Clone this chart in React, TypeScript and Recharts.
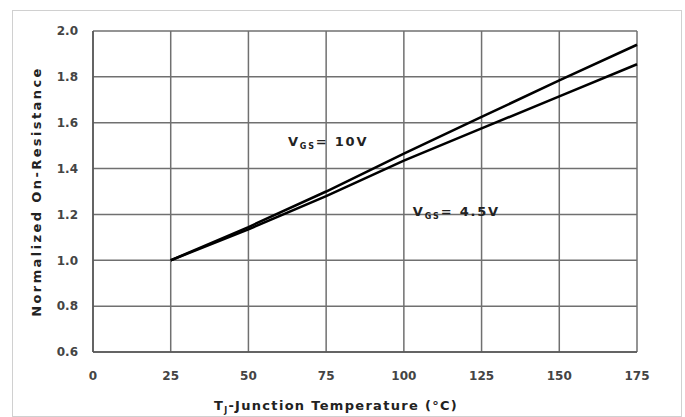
import React from "react";
import { LineChart, Line, XAxis, YAxis, CartesianGrid, ReferenceDot } from "recharts";

const temps = [25, 50, 75, 100, 125, 150, 175];
const vgs10 = [1.0, 1.145, 1.3, 1.465, 1.625, 1.785, 1.94];
const vgs45 = [1.0, 1.135, 1.28, 1.435, 1.575, 1.715, 1.855];
const xTicks = [0, 25, 50, 75, 100, 125, 150, 175];
const yTicks = [0.6, 0.8, 1.0, 1.2, 1.4, 1.6, 1.8, 2.0];

const data = temps.map((t, i) => ({ t, v10: vgs10[i], v45: vgs45[i] }));

const FONT = "'DejaVu Sans', Verdana, sans-serif";
const INK = "#222";

function VgsLabel({ viewBox, value }: any) {
  const x = viewBox?.cx ?? viewBox?.x ?? 0;
  const y = viewBox?.cy ?? viewBox?.y ?? 0;
  return (
    <text x={x} y={y} fontFamily={FONT} fontSize={13} fontWeight="bold" fill={INK} letterSpacing={1.8}>
      V
      <tspan fontSize={8} dy={3}>GS</tspan>
      <tspan dy={-3}>{"= " + value}</tspan>
    </text>
  );
}

function XTitle({ viewBox }: any) {
  const cx = viewBox.x + viewBox.width / 2 - 29;
  return (
    <text x={cx} y={viewBox.y + 58} textAnchor="middle" fontFamily={FONT} fontSize={13} fontWeight="bold" fill={INK} letterSpacing={1.3}>
      T<tspan fontSize={8} dy={3}>J</tspan>
      <tspan dy={-3}>-Junction Temperature (°C)</tspan>
    </text>
  );
}

function YTitle({ viewBox }: any) {
  const cx = 36;
  const cy = viewBox.y + viewBox.height / 2;
  return (
    <text
      x={cx}
      y={cy}
      transform={`rotate(-90 ${cx} ${cy})`}
      textAnchor="middle"
      dominantBaseline="central"
      fontFamily={FONT}
      fontSize={13}
      fontWeight="bold"
      fill={INK}
      letterSpacing={2.4}
    >
      Normalized On-Resistance
    </text>
  );
}

export default function App() {
  return (
    <div style={{ position: "absolute", left: 0, top: 0, width: 685, height: 417, background: "#fff" }}>
      <div
        style={{
          position: "absolute",
          left: 12,
          top: 10,
          width: 668,
          height: 405,
          border: "1px solid #d0d0d0",
        }}
      />
      <LineChart
        width={685}
        height={417}
        data={data}
        margin={{ top: 31, right: 48, left: 0, bottom: 0 }}
        style={{ position: "absolute", left: 0, top: 0 }}
      >
        <CartesianGrid stroke="#707070" strokeWidth={1.5} horizontalValues={yTicks} verticalValues={xTicks} />
        <XAxis
          dataKey="t"
          type="number"
          domain={[0, 175]}
          ticks={xTicks}
          height={65}
          tickLine={false}
          axisLine={{ stroke: "#555", strokeWidth: 1.5 }}
          tick={{ fontFamily: FONT, fontSize: 12, fontWeight: "bold", fill: "#444" }}
          tickMargin={13}
          label={<XTitle />}
        />
        <YAxis
          type="number"
          domain={[0.6, 2.0]}
          ticks={yTicks}
          width={93}
          tickLine={false}
          axisLine={{ stroke: "#555", strokeWidth: 1.5 }}
          tickFormatter={(v) => Number(v).toFixed(1)}
          tick={{ fontFamily: FONT, fontSize: 12, fontWeight: "bold", fill: "#444" }}
          tickMargin={9}
          label={<YTitle />}
        />
        <Line type="linear" dataKey="v10" stroke="#000" strokeWidth={2.5} dot={false} isAnimationActive={false} />
        <Line type="linear" dataKey="v45" stroke="#000" strokeWidth={2.5} dot={false} isAnimationActive={false} />
        <ReferenceDot x={62.7} y={1.498} r={0} fill="none" stroke="none" label={<VgsLabel value="10V" />} />
        <ReferenceDot x={102.9} y={1.193} r={0} fill="none" stroke="none" label={<VgsLabel value="4.5V" />} />
      </LineChart>
    </div>
  );
}
